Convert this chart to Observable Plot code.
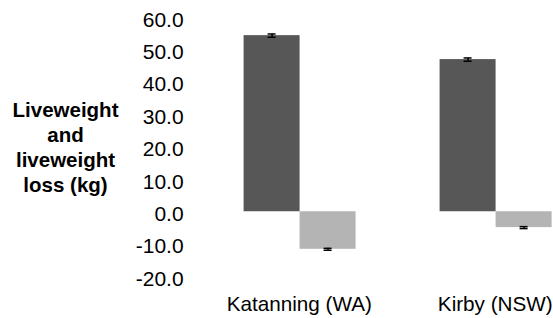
<!DOCTYPE html>
<html>
<head>
<meta charset="utf-8">
<script src="https://cdn.jsdelivr.net/npm/d3@7"></script>
<script src="https://cdn.jsdelivr.net/npm/@observablehq/plot@0.6"></script>
<style>
  html, body { margin: 0; padding: 0; background: #fff; }
  #wrap { position: relative; width: 553px; height: 318px; font-family: "Liberation Sans", Arial, sans-serif; }
  #ylabel { position: absolute; left: 0; top: 97px; width: 131px; text-align: center; font-weight: bold; font-size: 20.5px; line-height: 25px; color: #000; }
  svg { overflow: visible; }
</style>
</head>
<body>
<div id="wrap">
  <div id="chart"></div>
  <div id="ylabel">Liveweight<br>and<br>liveweight<br>loss (kg)</div>
</div>
<script>
const sites = ["Katanning (WA)", "Kirby (NSW)"];
const measures = ["Liveweight", "Liveweight loss"];
const liveweight = [54.4, 47.0];
const liveweightLoss = [-11.6, -4.9];
const liveweightErr = [0.5, 0.5];
const lossErr = [0.3, 0.3];
const yTicks = [-20, -10, 0, 10, 20, 30, 40, 50, 60];
const barColors = ["#575757", "#b4b4b4"];

const rows = [];
sites.forEach((s, i) => {
  rows.push({site: s, measure: measures[0], value: liveweight[i], err: liveweightErr[i]});
  rows.push({site: s, measure: measures[1], value: liveweightLoss[i], err: lossErr[i]});
});

const chart = Plot.plot({
  width: 553,
  height: 318,
  marginLeft: 190,
  marginRight: 1,
  marginTop: 17,
  marginBottom: 42,
  style: {fontFamily: "'Liberation Sans', Arial, sans-serif", fontSize: "21px", color: "#000", background: "transparent"},
  fx: {domain: sites, paddingInner: 0.4265, paddingOuter: 0.1367, align: 1, round: false, label: null, axis: null},
  x: {domain: measures, padding: 0, axis: null},
  y: {domain: [-20, 60], axis: null},
  color: {domain: measures, range: barColors},
  marks: [
    Plot.axisY({ticks: yTicks, tickFormat: d => d.toFixed(1), tickSize: 0, tickPadding: 60.5, label: null, dy: 2.5, fontSize: 21}),
    Plot.axisFx({anchor: "bottom", tickSize: 0, tickPadding: 20, label: null, fontSize: 20.7, dx: -1}),
    Plot.barY(rows, {fx: "site", x: "measure", y: "value", fill: "measure"}),
    Plot.ruleX(rows, {fx: "site", x: "measure", y1: d => d.value - d.err, y2: d => d.value + d.err, stroke: "#000", strokeWidth: 1.5}),
    Plot.tickY(rows, {fx: "site", x: "measure", y: d => d.value - d.err, stroke: "#000", strokeWidth: 1.5, inset: 24}),
    Plot.tickY(rows, {fx: "site", x: "measure", y: d => d.value + d.err, stroke: "#000", strokeWidth: 1.5, inset: 24})
  ]
});
document.getElementById("chart").appendChild(chart);
</script>
</body>
</html>
